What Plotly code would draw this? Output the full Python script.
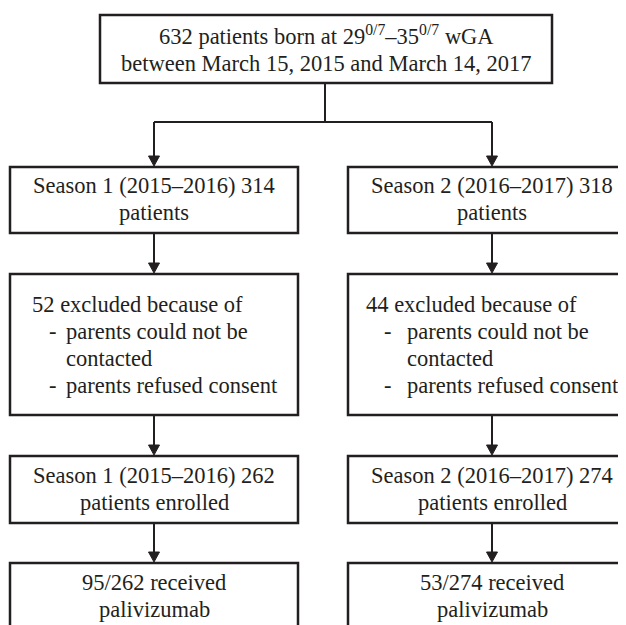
import plotly.graph_objects as go

# ---- content (data) ----
total_patients = 632
ga_from = "29"
ga_to = "35"
period_start = "March 15, 2015"
period_end = "March 14, 2017"
season_labels = ["Season 1 (2015–2016)", "Season 2 (2016–2017)"]
season_patients = [314, 318]
excluded_counts = [52, 44]
exclusion_reason_lines = [["parents could not be", "contacted"], ["parents refused consent"]]
enrolled_counts = [262, 274]
palivizumab_counts = [95, 53]

# ---- layout geometry (pixels) ----
W, H = 626, 625
OFF = 8  # page body margin compensation
INK = "#231f20"
FONT = "Liberation Serif, Times New Roman, serif"
FS = 22.5
LW = 2.5

top_box = (100, 552, 15, 83)
col_x = [(10, 298), (348, 636)]
rows_y = [(167, 233), (274, 415), (456, 523), (563, 645)]

shapes = []
annotations = []


def rect(x0, x1, y0, y1):
    shapes.append(dict(type="rect", x0=x0, x1=x1, y0=y0, y1=y1, xref="x", yref="y",
                       line=dict(color=INK, width=LW), fillcolor="white", layer="below"))


def line(x0, y0, x1, y1):
    shapes.append(dict(type="line", x0=x0, x1=x1, y0=y0, y1=y1, xref="x", yref="y",
                       line=dict(color=INK, width=2)))


def arrow(x, y0, y1):
    # vertical line ending in a filled triangle with its tip at y1
    line(x, y0, x, y1 - 8)
    shapes.append(dict(type="path", xref="x", yref="y",
                       path=f"M {x-5.5},{y1-11} L {x+5.5},{y1-11} L {x},{y1-1} Z",
                       fillcolor=INK, line=dict(color=INK, width=1)))


def text(s, x, baseline, anchor="center"):
    annotations.append(dict(text=s, x=x, y=baseline + 5.5, xref="x", yref="y",
                            xanchor=anchor, yanchor="bottom", showarrow=False,
                            borderpad=0, font=dict(family=FONT, size=FS, color=INK)))


# top box
rect(*top_box)
tcx = (top_box[0] + top_box[1]) / 2
text(f"{total_patients} patients born at {ga_from}<sup>0/7</sup>–{ga_to}<sup>0/7</sup> wGA", tcx, 45)
text(f"between {period_start} and {period_end}", tcx, 72)

# split connector
split_y = 122
cxs = [(a + b) / 2 for a, b in col_x]
line(tcx - 1, top_box[3], tcx - 1, split_y)
line(cxs[0], split_y, cxs[1], split_y)
for cx in cxs:
    arrow(cx, split_y, rows_y[0][0])

for i, (x0, x1) in enumerate(col_x):
    cx = (x0 + x1) / 2
    for r, (y0, y1) in enumerate(rows_y):
        rect(x0, x1, y0, y1)
        if r < len(rows_y) - 1:
            arrow(cx, y1, rows_y[r + 1][0])

    # row 1
    text(f"{season_labels[i]} {season_patients[i]}", cx, 193)
    text("patients", cx, 220)

    # row 2 (left aligned list)
    tx = [31, 365][i]
    dx = [48, 383][i]
    ix = [65, 406][i]
    text(f"{excluded_counts[i]} excluded because of", tx, 312, "left")
    bl = 339
    for reason in exclusion_reason_lines:
        for k, part in enumerate(reason):
            if k == 0:
                text("-", dx, bl, "left")
            text(part, ix, bl, "left")
            bl += 27

    # row 3
    text(f"{season_labels[i]} {enrolled_counts[i]}", cx, 483)
    text("patients enrolled", cx, 510)

    # row 4
    text(f"{palivizumab_counts[i]}/{enrolled_counts[i]} received", cx, 590)
    text("palivizumab", cx, 617)

fig = go.Figure()
fig.update_layout(
    width=W, height=H, margin=dict(l=0, r=0, t=0, b=0),
    paper_bgcolor="white", plot_bgcolor="white",
    xaxis=dict(range=[OFF, W + OFF], visible=False, fixedrange=True),
    yaxis=dict(range=[H + OFF, OFF], visible=False, fixedrange=True),
    shapes=shapes, annotations=annotations, showlegend=False,
)
fig.write_html("out.html")
